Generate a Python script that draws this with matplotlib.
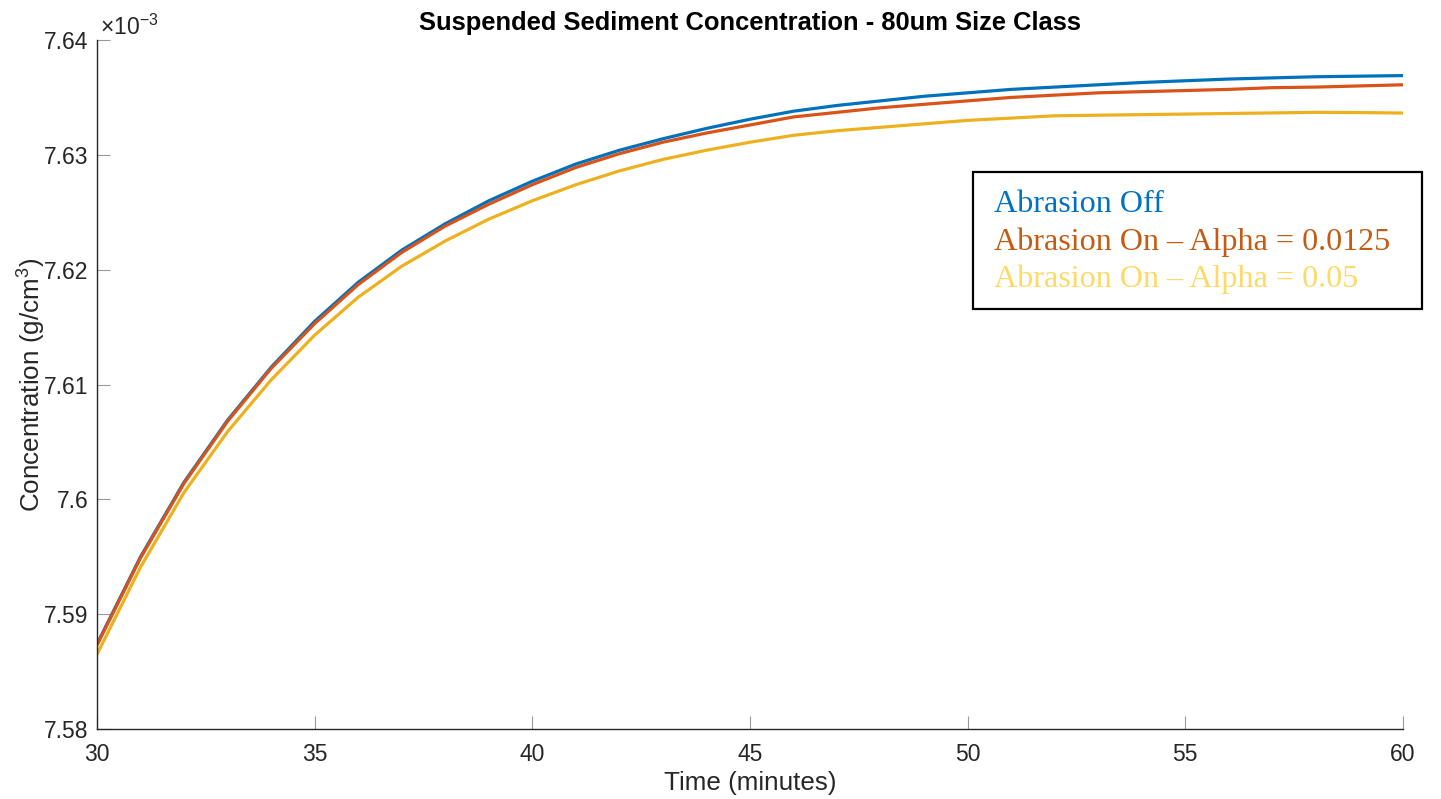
import matplotlib
matplotlib.use("Agg")
import matplotlib.pyplot as plt
from matplotlib.patches import Rectangle
from matplotlib.ticker import FuncFormatter

plt.rcParams['font.family'] = ['Liberation Sans', 'DejaVu Sans']
plt.rcParams['mathtext.fontset'] = 'custom'
plt.rcParams['mathtext.rm'] = 'Liberation Sans'
plt.rcParams['mathtext.it'] = 'Liberation Sans:italic'

# time (minutes) and concentration (x 1e-3 g/cm^3)
time_min = [30, 31, 32, 33, 34, 35, 36, 37, 38, 39, 40,
            41, 42, 43, 44, 45, 46, 47, 48, 49, 50,
            51, 52, 53, 54, 55, 56, 57, 58, 59, 60]
abrasion_off = [7.5874, 7.5950, 7.6015, 7.6069, 7.6115, 7.6155, 7.6189, 7.6217, 7.6240, 7.6260, 7.6277,
                7.6292, 7.6304, 7.6314, 7.6323, 7.6331, 7.6338, 7.6343, 7.6347, 7.6351, 7.6354,
                7.6357, 7.6359, 7.6361, 7.6363, 7.63645, 7.6366, 7.6367, 7.6368, 7.63685, 7.6369]
alpha_0125 = [7.5873, 7.5949, 7.6014, 7.6068, 7.6114, 7.6153, 7.6187, 7.6215, 7.6238, 7.6257, 7.6274,
              7.6289, 7.6301, 7.6311, 7.6319, 7.6326, 7.6333, 7.6337, 7.6341, 7.6344, 7.6347,
              7.6350, 7.6352, 7.6354, 7.6355, 7.6356, 7.6357, 7.63585, 7.6359, 7.6360, 7.6361]
alpha_05 = [7.5865, 7.5941, 7.6006, 7.6059, 7.6104, 7.6143, 7.6176, 7.6203, 7.6225, 7.6244, 7.6260,
            7.6274, 7.6286, 7.6296, 7.6304, 7.6311, 7.6317, 7.6321, 7.6324, 7.6327, 7.6330,
            7.6332, 7.6334, 7.63345, 7.6335, 7.63355, 7.6336, 7.63365, 7.6337, 7.63368, 7.63364]

labels = ["Abrasion Off", "Abrasion On \u2013 Alpha = 0.0125", "Abrasion On \u2013 Alpha = 0.05"]
line_colors = ['#0072BD', '#D95319', '#EDB120']
text_colors = ['#0070C0', '#C55A11', '#FFD966']

x_ticks = [30, 35, 40, 45, 50, 55, 60]
y_ticks = [7.58, 7.59, 7.60, 7.61, 7.62, 7.63, 7.64]

fig = plt.figure(figsize=(14.41, 7.99), dpi=100)
ax = fig.add_axes([97/1441, 70/799, 1306/1441, 689/799])

for ys, c in zip([abrasion_off, alpha_0125, alpha_05], line_colors):
    ax.plot(time_min, ys, color=c, lw=2.3, solid_capstyle='butt', solid_joinstyle='round')

ax.set_xlim(30, 60)
ax.set_ylim(7.58, 7.64)
ax.set_xticks(x_ticks)
ax.set_yticks(y_ticks)
ax.yaxis.set_major_formatter(FuncFormatter(lambda v, p: '%g' % round(v, 4)))

for s in ['top', 'right']:
    ax.spines[s].set_visible(False)
for s in ['left', 'bottom']:
    ax.spines[s].set_color('#262626')
    ax.spines[s].set_linewidth(1.0)
ax.tick_params(direction='in', length=9.5, width=0.8, color='#9a9a9a',
               labelsize=16.5, labelcolor='#262626')
ax.tick_params(axis='x', pad=10)
ax.tick_params(axis='y', pad=6)

ax.set_xlabel("Time (minutes)", fontsize=18.7, color='#262626', labelpad=4)
ax.set_ylabel("Concentration (g/cm$^3$)", fontsize=18.7, color='#262626', labelpad=-3)
ax.set_title("Suspended Sediment Concentration - 80um Size Class", fontsize=18.4,
             fontweight='bold', pad=7)

# exponent label like the original
fig.text(100/1441, 1 - 35/799, r"$\times10^{-3}$", fontsize=16.5, color='#262626',
         va='baseline', ha='left')

# legend box drawn as coloured text
fig.patches.append(Rectangle((973/1441, 1 - 309/799), 449/1441, 137/799,
                             transform=fig.transFigure, fill=False,
                             edgecolor='black', lw=1.6))
baselines = [212, 250, 287]
for lab, c, b in zip(labels, text_colors, baselines):
    fig.text(994/1441, 1 - b/799, lab, color=c, fontsize=23.1,
             family=['Liberation Serif', 'DejaVu Serif'], va='baseline', ha='left')

fig.savefig("out.png", dpi=100, facecolor='white')
